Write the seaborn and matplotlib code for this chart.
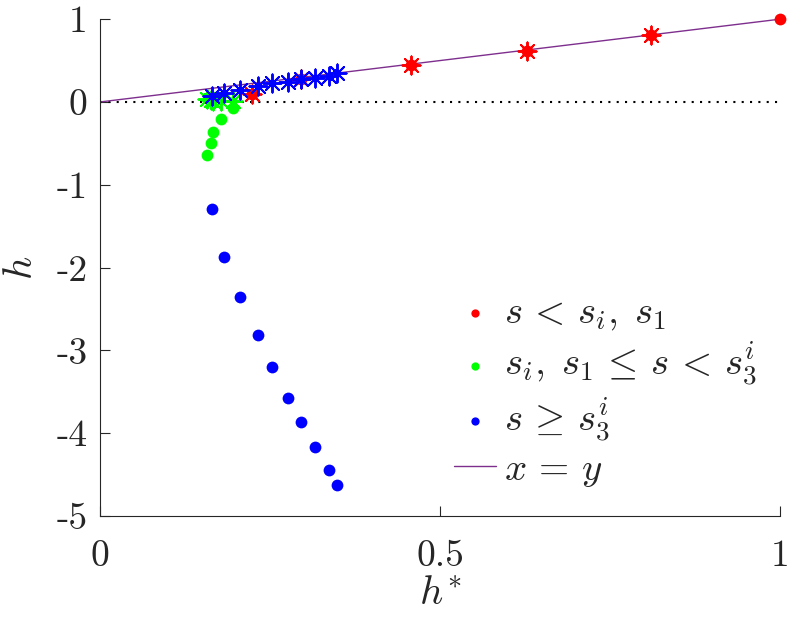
import numpy as np
import pandas as pd
import seaborn as sns
import matplotlib.pyplot as plt

sns.set_style("white")
plt.rcParams["mathtext.fontset"] = "cm"
plt.rcParams["font.family"] = ["cmr10", "DejaVu Serif"]
plt.rcParams["axes.formatter.use_mathtext"] = True

# h* (x) and h (y) values
red_x = [0.224, 0.296, 0.457, 0.628, 0.81, 1.0]
red_y = [0.10, 0.272, 0.45, 0.62, 0.805, 1.0]
red_star_x = [0.224, 0.296, 0.457, 0.628, 0.81]
red_star_y = [0.10, 0.272, 0.45, 0.62, 0.805]

green_x = [0.157, 0.163, 0.166, 0.178, 0.196]
green_y = [-0.64, -0.49, -0.36, -0.21, -0.067]
green_star_y = [0.03, 0.02, 0.015, 0.01, 0.01]

blue_x = [0.164, 0.183, 0.206, 0.232, 0.253, 0.277, 0.296, 0.316, 0.337, 0.349]
blue_y = [-1.29, -1.87, -2.36, -2.81, -3.20, -3.57, -3.87, -4.17, -4.44, -4.62]
blue_star_y = [0.072, 0.113, 0.145, 0.193, 0.225, 0.246, 0.273, 0.286, 0.313, 0.346]

line_x = [0, 1]
zero_y = [0, 0]

ticks_x = [0, 0.5, 1]
ticks_x_lab = ["0", "0.5", "1"]
ticks_y = [1, 0, -1, -2, -3, -4, -5]
ticks_y_lab = ["1", "0", "-1", "-2", "-3", "-4", "-5"]

fig = plt.figure(figsize=(7.89, 6.18), dpi=100)
ax = fig.add_axes([0.1267, 0.165, 0.862, 0.804])

ax_col = "#262626"
dot_s = 72
star_s = 170
star = (8, 2, 0)

sns.lineplot(x=line_x, y=zero_y, color="black", linestyle=(0, (1, 3)), lw=1.5, ax=ax, zorder=1)

sns.scatterplot(x=red_x, y=red_y, color="#ff0000", s=dot_s, linewidth=0, ax=ax,
                label=r"$s\,<\,s_i,\;s_1$", zorder=3, clip_on=False)
sns.scatterplot(x=green_x, y=green_y, color="#00ff00", s=dot_s, linewidth=0, ax=ax,
                label=r"$s_i,\;s_1\,\leq\,s\,<\,s_3^i$", zorder=3)
sns.scatterplot(x=blue_x, y=blue_y, color="#0000ff", s=dot_s, linewidth=0, ax=ax,
                label=r"$s\,\geq\,s_3^i$", zorder=3)

ax.scatter(red_star_x, red_star_y, marker=star, color="#ff0000", s=star_s, linewidths=1.4, zorder=4)
ax.scatter(green_x, green_star_y, marker=star, color="#00ff00", s=star_s, linewidths=1.4, zorder=4)
ax.scatter(blue_x, blue_star_y, marker=star, color="#0000ff", s=star_s, linewidths=1.4, zorder=5)

sns.lineplot(x=line_x, y=line_x, color="#7E2F8E", lw=1.0, ax=ax, label=r"$x\,=\,y$", zorder=2)

ax.set_xlim(0, 1)
ax.set_ylim(-5, 1)
ax.set_xticks(ticks_x)
ax.set_xticklabels(ticks_x_lab)
ax.set_yticks(ticks_y)
ax.set_yticklabels(ticks_y_lab)
ax.tick_params(direction="in", length=7, width=0.8, colors=ax_col, labelsize=27,
               left=True, bottom=True)
ax.tick_params(axis="x", pad=17)
ax.tick_params(axis="y", pad=9)
for lab in ax.get_xticklabels() + ax.get_yticklabels():
    lab.set_color(ax_col)

for side in ["top", "right"]:
    ax.spines[side].set_visible(False)
for side in ["left", "bottom"]:
    ax.spines[side].set_color(ax_col)
    ax.spines[side].set_linewidth(0.8)

ax.set_xlabel(r"$h^{*}$", fontsize=29, color=ax_col, labelpad=3)
ax.set_ylabel(r"$h$", fontsize=29, color=ax_col, labelpad=12)

ax.legend(loc="upper left", bbox_to_anchor=(0.497, 0.476), frameon=False, fontsize=28,
          handlelength=1.1, handletextpad=0.2, labelspacing=0.2, markerscale=0.7,
          borderaxespad=0)

fig.savefig("out.png", dpi=100)
